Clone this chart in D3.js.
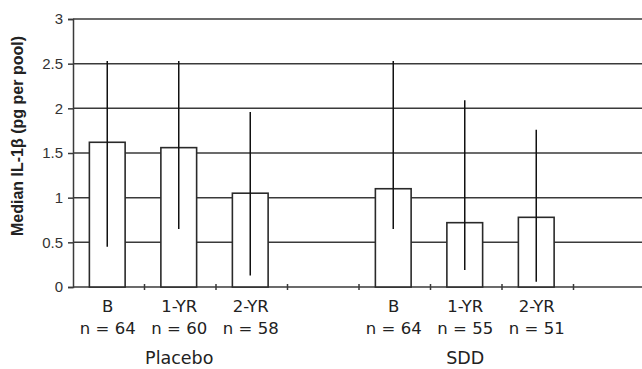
<!DOCTYPE html>
<html>
<head>
<meta charset="utf-8">
<script src="https://cdn.jsdelivr.net/npm/d3@7"></script>
<style>
  body { margin: 0; background: #fff; }
  svg { display: block; }
</style>
</head>
<body>
<svg id="chart" width="642" height="369"></svg>
<script>
// values
const slots = ["pB", "p1", "p2", "gapA", "sB", "s1", "s2", "gapB"]
const catLabels = ["B", "1-YR", "2-YR", "", "B", "1-YR", "2-YR", ""]
const nLabels = ["n = 64", "n = 60", "n = 58", "", "n = 64", "n = 55", "n = 51", ""]
const medians = [1.62, 1.56, 1.05, null, 1.10, 0.72, 0.78, null]
const upper = [2.53, 2.53, 1.96, null, 2.53, 2.09, 1.76, null]
const lower = [0.45, 0.65, 0.13, null, 0.65, 0.19, 0.06, null]
const groupNames = ["Placebo", "SDD"]
const groupCenters = ["p1", "s1"]
const yTicks = [0, 0.5, 1, 1.5, 2, 2.5, 3]

const svg = d3.select("#chart")
const plot = {left: 73, right: 645, top: 19, bottom: 287}

const x = d3.scaleBand()
    .domain(slots)
    .range([plot.left, plot.right])
    .paddingInner(0.5)
    .paddingOuter(0.25)

const y = d3.scaleLinear().domain([0, 3]).range([plot.bottom, plot.top])

const step = x.step()
const tickX = d3.range(slots.length + 1).map(i => plot.left + i * step)

// horizontal grid
svg.append("g")
    .selectAll("line")
    .data(yTicks)
    .join("line")
    .attr("x1", plot.left).attr("x2", 642)
    .attr("y1", d => y(d)).attr("y2", d => y(d))
    .attr("stroke", "#3a3a3a")
    .attr("stroke-width", 1.5)

// y axis
const yAxis = svg.append("g")
    .attr("transform", `translate(${plot.left},0)`)
    .call(d3.axisLeft(y).tickValues(yTicks).tickSize(5).tickPadding(5).tickFormat(d3.format("")))
yAxis.select(".domain").attr("stroke", "#3a3a3a").attr("stroke-width", 1.5)
yAxis.selectAll(".tick line").attr("stroke", "#3a3a3a").attr("stroke-width", 1.5)
yAxis.selectAll(".tick text")
    .attr("font-family", "Liberation Sans, Arial, sans-serif")
    .attr("font-size", 15)
    .attr("fill", "#333")

// x axis ticks (crossing the baseline)
svg.append("g")
    .selectAll("line")
    .data(tickX.slice(1))
    .join("line")
    .attr("x1", d => d).attr("x2", d => d)
    .attr("y1", plot.bottom - 3).attr("y2", plot.bottom + 3)
    .attr("stroke", "#3a3a3a")
    .attr("stroke-width", 1.5)

const idx = slots.map((s, i) => i).filter(i => medians[i] !== null)

// bars
svg.append("g")
    .selectAll("rect")
    .data(idx)
    .join("rect")
    .attr("x", i => x(slots[i]) - 1.5)
    .attr("width", x.bandwidth())
    .attr("y", i => y(medians[i]))
    .attr("height", i => y(0) - y(medians[i]))
    .attr("fill", "#fff")
    .attr("stroke", "#2a2a2a")
    .attr("stroke-width", 1.6)

// range lines
svg.append("g")
    .selectAll("line")
    .data(idx)
    .join("line")
    .attr("x1", i => x(slots[i]) + x.bandwidth() / 2 - 1.5)
    .attr("x2", i => x(slots[i]) + x.bandwidth() / 2 - 1.5)
    .attr("y1", i => y(upper[i]))
    .attr("y2", i => y(lower[i]))
    .attr("stroke", "#111")
    .attr("stroke-width", 1.5)

const labelFont = "DejaVu Sans, Verdana, sans-serif"

svg.append("g")
    .selectAll("text")
    .data(idx)
    .join("text")
    .attr("x", i => x(slots[i]) + x.bandwidth() / 2 - 1)
    .attr("y", 312)
    .attr("text-anchor", "middle")
    .attr("font-family", labelFont)
    .attr("font-size", 16.5)
    .attr("fill", "#222")
    .text(i => catLabels[i])

svg.append("g")
    .selectAll("text")
    .data(idx)
    .join("text")
    .attr("x", i => x(slots[i]) + x.bandwidth() / 2 - 1)
    .attr("y", 334)
    .attr("text-anchor", "middle")
    .attr("font-family", labelFont)
    .attr("font-size", 16.5)
    .attr("fill", "#222")
    .text(i => nLabels[i])

svg.append("g")
    .selectAll("text")
    .data(groupNames)
    .join("text")
    .attr("x", (d, i) => x(groupCenters[i]) + x.bandwidth() / 2 - 1)
    .attr("y", 364)
    .attr("text-anchor", "middle")
    .attr("font-family", labelFont)
    .attr("font-size", 17.5)
    .attr("fill", "#222")
    .text(d => d)

// y title
svg.append("text")
    .attr("transform", `translate(23,136) rotate(-90)`)
    .attr("text-anchor", "middle")
    .attr("font-family", "Liberation Sans, Arial, sans-serif")
    .attr("font-weight", "bold")
    .attr("font-size", 16)
    .attr("fill", "#222")
    .text("Median IL-1β (pg per pool)")
</script>
</body>
</html>
